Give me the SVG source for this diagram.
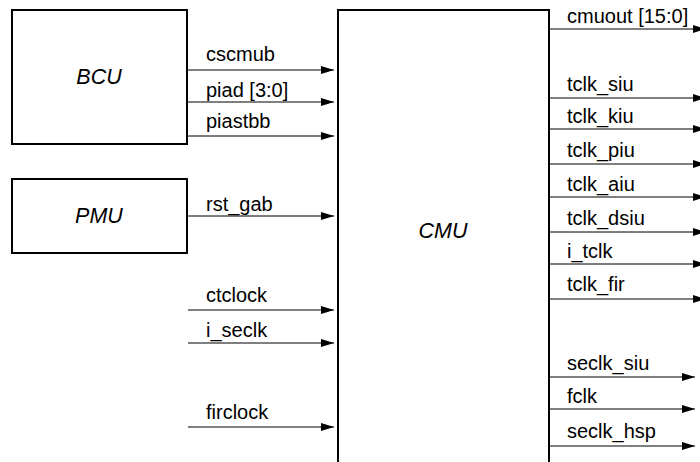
<svg xmlns="http://www.w3.org/2000/svg" width="700" height="462" viewBox="0 0 700 462">
<defs>
<marker id="arr" markerUnits="userSpaceOnUse" markerWidth="13" markerHeight="8" refX="13" refY="4" orient="auto">
<path d="M0,0 L13,4 L0,8 z" fill="#000"/>
</marker>
<style>
.box{fill:#fff;stroke:#000;stroke-width:2}
.name{font-family:"Liberation Sans",Arial,sans-serif;font-size:21.5px;font-style:italic;text-anchor:middle;fill:#000}
.lbl{font-family:"Liberation Sans",Arial,sans-serif;font-size:20px;fill:#000}
.w{stroke:#000;stroke-width:1.2;fill:none;marker-end:url(#arr)}
</style>
</defs>
<rect width="700" height="462" fill="#fff"/>
<g id="BCU"><rect class="box" x="12" y="10" width="175" height="134"/><text class="name" x="99" y="84">BCU</text></g>
<g id="PMU"><rect class="box" x="12" y="179" width="175" height="74"/><text class="name" x="99" y="223">PMU</text></g>
<g id="CMU"><rect class="box" x="338" y="10" width="211" height="470"/><text class="name" x="443" y="238">CMU</text></g>
<g id="connectors">
<line class="w" x1="187" y1="70" x2="334" y2="70"/>
<line class="w" x1="187" y1="102" x2="334" y2="102"/>
<line class="w" x1="187" y1="136" x2="334" y2="136"/>
<line class="w" x1="187" y1="216" x2="334" y2="216"/>
<line class="w" x1="188" y1="310" x2="334" y2="310"/>
<line class="w" x1="188" y1="343" x2="334" y2="343"/>
<line class="w" x1="188" y1="427" x2="334" y2="427"/>
<line class="w" x1="549" y1="29" x2="706" y2="29"/>
<line class="w" x1="549" y1="98" x2="706" y2="98"/>
<line class="w" x1="549" y1="129" x2="706" y2="129"/>
<line class="w" x1="549" y1="164" x2="706" y2="164"/>
<line class="w" x1="549" y1="197" x2="706" y2="197"/>
<line class="w" x1="549" y1="232" x2="706" y2="232"/>
<line class="w" x1="549" y1="264" x2="706" y2="264"/>
<line class="w" x1="549" y1="299" x2="706" y2="299"/>
<line class="w" x1="549" y1="377" x2="695" y2="377"/>
<line class="w" x1="549" y1="409" x2="695" y2="409"/>
<line class="w" x1="549" y1="446" x2="695" y2="446"/>
</g>
<g id="labels">
<text class="lbl" x="206" y="61">cscmub</text>
<text class="lbl" x="206" y="97">piad [3:0]</text>
<text class="lbl" x="206" y="128">piastbb</text>
<text class="lbl" x="206" y="211">rst_gab</text>
<text class="lbl" x="206" y="302">ctclock</text>
<text class="lbl" x="206" y="337">i_seclk</text>
<text class="lbl" x="206" y="419">firclock</text>
<text class="lbl" x="567" y="23">cmuout [15:0]</text>
<text class="lbl" x="567" y="91">tclk_siu</text>
<text class="lbl" x="567" y="123">tclk_kiu</text>
<text class="lbl" x="567" y="157">tclk_piu</text>
<text class="lbl" x="567" y="191">tclk_aiu</text>
<text class="lbl" x="567" y="225">tclk_dsiu</text>
<text class="lbl" x="567" y="258">i_tclk</text>
<text class="lbl" x="567" y="291">tclk_fir</text>
<text class="lbl" x="567" y="370">seclk_siu</text>
<text class="lbl" x="567" y="403">fclk</text>
<text class="lbl" x="567" y="438">seclk_hsp</text>
</g>
</svg>
